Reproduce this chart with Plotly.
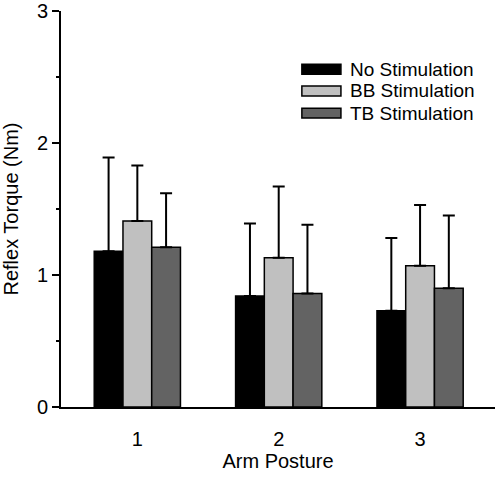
import plotly.graph_objects as go

categories = ["1", "2", "3"]
series_names = ["No Stimulation", "BB Stimulation", "TB Stimulation"]
no_stim = [1.18, 0.84, 0.73]
no_stim_err = [0.71, 0.55, 0.55]
bb_stim = [1.41, 1.13, 1.07]
bb_stim_err = [0.42, 0.54, 0.46]
tb_stim = [1.21, 0.86, 0.90]
tb_stim_err = [0.41, 0.52, 0.55]
colors = ["#000000", "#c0c0c0", "#636363"]

FONT = "Liberation Sans, Arial, sans-serif"
FS = 20
LEG_FS = 19

fig = go.Figure()
for name, vals, errs, col in zip(series_names, [no_stim, bb_stim, tb_stim],
                                 [no_stim_err, bb_stim_err, tb_stim_err], colors):
    fig.add_trace(go.Bar(
        x=categories, y=vals, name=name,
        marker=dict(color=col, line=dict(color="black", width=1.5)),
        error_y=dict(type="data", array=errs, symmetric=False, arrayminus=[0]*len(errs),
                     color="black", thickness=2, width=6),
        showlegend=False,
    ))

# Legend drawn manually (wide swatches)
leg_x0, leg_x1 = 0.555, 0.645
leg_y = [0.853, 0.798, 0.742]
for name, col, yy in zip(series_names, colors, leg_y):
    fig.add_shape(type="rect", xref="paper", yref="paper",
                  x0=leg_x0, x1=leg_x1, y0=yy - 0.0125, y1=yy + 0.0125,
                  fillcolor=col, line=dict(color="black", width=1.5))
    fig.add_annotation(xref="paper", yref="paper", x=0.662, y=yy, text=name,
                       showarrow=False, xanchor="left", yanchor="middle",
                       font=dict(family=FONT, size=LEG_FS, color="black"))

fig.update_layout(
    width=496, height=478,
    margin=dict(l=61, r=1, t=11, b=71, autoexpand=False),
    plot_bgcolor="white", paper_bgcolor="white",
    barmode="group", bargap=0.39, bargroupgap=0,
    font=dict(family=FONT, size=FS, color="black"),
    xaxis=dict(
        type="category", range=[-0.54, 2.53],
        showline=True, linecolor="black", linewidth=2,
        ticks="", ticklabelstandoff=13,
        title=dict(text="Arm Posture", standoff=5, font=dict(size=FS)),
        showgrid=False, zeroline=False, automargin=False,
    ),
    yaxis=dict(
        range=[0, 3], tickvals=[0, 1, 2, 3],
        showline=True, linecolor="black", linewidth=2,
        ticks="outside", ticklen=7, tickwidth=2, tickcolor="black",
        minor=dict(tickvals=[0.5, 1.5, 2.5], ticks="outside", ticklen=3, tickwidth=1.5, tickcolor="black"),
        title=dict(text="Reflex Torque (Nm)", standoff=14, font=dict(size=FS)),
        showgrid=False, zeroline=False, automargin=False,
    ),
)

fig.write_html("out.html", config={"displayModeBar": False},
               post_script="document.body.style.margin='0';")
